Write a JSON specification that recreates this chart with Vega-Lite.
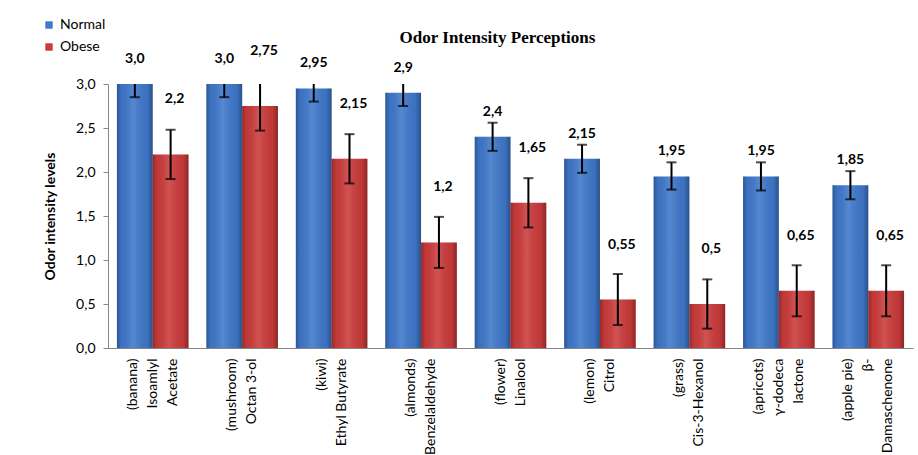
{
  "$schema": "https://vega.github.io/schema/vega-lite/v6.json",
  "width": 805,
  "height": 264,
  "autosize": {"type": "none"},
  "padding": {"left": 108, "top": 84, "right": 5, "bottom": 107},
  "background": "white",
  "title": {
    "text": "Odor Intensity Perceptions",
    "font": "Liberation Serif",
    "fontSize": 17,
    "fontWeight": "bold",
    "color": "black",
    "anchor": "middle",
    "frame": "group",
    "baseline": "alphabetic",
    "dx": -13,
    "offset": -42
  },
  "config": {
    "view": {"stroke": null},
    "font": "Lato"
  },
  "data": {
    "values": [
      {"odor": "(banana)|Isoamlyl|Acetate", "series": "Normal", "value": 3.0, "lower": 2.85, "upper": 3.15, "label": "3,0"},
      {"odor": "(banana)|Isoamlyl|Acetate", "series": "Obese", "value": 2.2, "lower": 1.92, "upper": 2.48, "label": "2,2"},
      {"odor": "(mushroom)|Octan 3-ol", "series": "Normal", "value": 3.0, "lower": 2.85, "upper": 3.15, "label": "3,0"},
      {"odor": "(mushroom)|Octan 3-ol", "series": "Obese", "value": 2.75, "lower": 2.47, "upper": 3.03, "label": "2,75"},
      {"odor": "(kiwi)|Ethyl Butyrate", "series": "Normal", "value": 2.95, "lower": 2.8, "upper": 3.1, "label": "2,95"},
      {"odor": "(kiwi)|Ethyl Butyrate", "series": "Obese", "value": 2.15, "lower": 1.87, "upper": 2.43, "label": "2,15"},
      {"odor": "(almonds)|Benzelaldehyde", "series": "Normal", "value": 2.9, "lower": 2.75, "upper": 3.05, "label": "2,9"},
      {"odor": "(almonds)|Benzelaldehyde", "series": "Obese", "value": 1.2, "lower": 0.91, "upper": 1.49, "label": "1,2"},
      {"odor": "(flower)|Linalool", "series": "Normal", "value": 2.4, "lower": 2.24, "upper": 2.56, "label": "2,4"},
      {"odor": "(flower)|Linalool", "series": "Obese", "value": 1.65, "lower": 1.37, "upper": 1.93, "label": "1,65"},
      {"odor": "(lemon)|Citrol", "series": "Normal", "value": 2.15, "lower": 1.99, "upper": 2.31, "label": "2,15"},
      {"odor": "(lemon)|Citrol", "series": "Obese", "value": 0.55, "lower": 0.26, "upper": 0.84, "label": "0,55"},
      {"odor": "(grass)|Cis-3-Hexanol", "series": "Normal", "value": 1.95, "lower": 1.8, "upper": 2.11, "label": "1,95"},
      {"odor": "(grass)|Cis-3-Hexanol", "series": "Obese", "value": 0.5, "lower": 0.22, "upper": 0.78, "label": "0,5"},
      {"odor": "(apricots)|γ-dodeca|lactone", "series": "Normal", "value": 1.95, "lower": 1.79, "upper": 2.11, "label": "1,95"},
      {"odor": "(apricots)|γ-dodeca|lactone", "series": "Obese", "value": 0.65, "lower": 0.36, "upper": 0.94, "label": "0,65"},
      {"odor": "(apple pie)|β-|Damaschenone", "series": "Normal", "value": 1.85, "lower": 1.69, "upper": 2.01, "label": "1,85"},
      {"odor": "(apple pie)|β-|Damaschenone", "series": "Obese", "value": 0.65, "lower": 0.36, "upper": 0.94, "label": "0,65"}
    ]
  },
  "encoding": {
    "x": {
      "field": "odor",
      "type": "nominal",
      "sort": null,
      "scale": {"paddingInner": 0.2, "paddingOuter": 0.1},
      "axis": {
        "title": null,
        "labelAngle": -90,
        "labelAlign": "right",
        "labelBaseline": "middle",
        "labelPadding": 10,
        "labelExpr": "split(datum.value, '|')",
        "labelOffset": {"expr": "-(length(split(datum.value, '|')) - 1) * 10"},
        "labelFont": "Lato",
        "labelFontSize": 14,
        "labelColor": "black",
        "labelLimit": 0,
        "labelLineHeight": 20,
        "ticks": false,
        "domainColor": "#868686",
        "domainWidth": 1
      }
    },
    "xOffset": {"field": "series", "type": "nominal", "scale": {"domain": ["Normal", "Obese"], "paddingInner": 0, "paddingOuter": 0}}
  },
  "layer": [
    {
      "mark": {"type": "bar"},
      "encoding": {
        "y": {
          "field": "value",
          "type": "quantitative",
          "scale": {"domain": [0, 3], "nice": false},
          "axis": {
            "values": [0, 0.5, 1, 1.5, 2, 2.5, 3],
            "labelExpr": "replace(format(datum.value, '.1f'), '.', ',')",
            "grid": false,
            "tickSize": 5,
            "tickColor": "#868686",
            "domainColor": "#868686",
            "labelFont": "Lato",
            "labelFontSize": 14,
            "labelColor": "black",
            "labelPadding": 8,
            "title": "Odor intensity levels",
            "titleFont": "Lato",
            "titleFontSize": 14,
            "titleFontWeight": "bold",
            "titleColor": "black",
            "titlePadding": 18
          }
        },
        "color": {
          "field": "series",
          "type": "nominal",
          "scale": {"domain": ["Normal", "Obese"], "range": ["#3F78CB", "#CC3B3B"]},
          "legend": {
            "title": null,
            "orient": "none",
            "legendX": -66,
            "legendY": -66,
            "symbolType": "square",
            "symbolSize": 55,
            "symbolStrokeWidth": 0,
            "labelFont": "Lato",
            "labelFontSize": 14,
            "labelColor": "black",
            "labelOffset": 4,
            "rowPadding": 8,
            "padding": 0
          }
        }
      }
    },
    {
      "mark": {
        "type": "bar",
        "color": {
          "gradient": "linear",
          "x1": 0, "x2": 1, "y1": 0, "y2": 0,
          "stops": [
            {"offset": 0, "color": "rgba(0,0,0,0.28)"},
            {"offset": 0.12, "color": "rgba(0,0,0,0.05)"},
            {"offset": 0.45, "color": "rgba(255,255,255,0.12)"},
            {"offset": 0.85, "color": "rgba(0,0,0,0.06)"},
            {"offset": 1, "color": "rgba(0,0,0,0.32)"}
          ]
        }
      },
      "encoding": {"y": {"field": "value", "type": "quantitative"}}
    },
    {
      "mark": {"type": "rule", "color": "black", "strokeWidth": 2, "clip": true},
      "encoding": {
        "y": {"field": "lower", "type": "quantitative"},
        "y2": {"field": "upper"}
      }
    },
    {
      "mark": {"type": "tick", "color": "black", "thickness": 2, "size": 10, "orient": "horizontal", "clip": true},
      "encoding": {"y": {"field": "lower", "type": "quantitative"}}
    },
    {
      "mark": {"type": "tick", "color": "black", "thickness": 2, "size": 10, "orient": "horizontal", "clip": true},
      "encoding": {"y": {"field": "upper", "type": "quantitative"}}
    },
    {
      "transform": [{"filter": "datum.series === 'Normal'"}],
      "mark": {"type": "text", "font": "Lato", "fontSize": 14, "fontWeight": "bold", "color": "black", "baseline": "middle", "dy": -25},
      "encoding": {
        "y": {"field": "value", "type": "quantitative"},
        "text": {"field": "label"}
      }
    },
    {
      "transform": [{"filter": "datum.series === 'Obese'"}],
      "mark": {"type": "text", "font": "Lato", "fontSize": 14, "fontWeight": "bold", "color": "black", "baseline": "middle", "dy": -55, "dx": 4},
      "encoding": {
        "y": {"field": "value", "type": "quantitative"},
        "text": {"field": "label"}
      }
    }
  ]
}
